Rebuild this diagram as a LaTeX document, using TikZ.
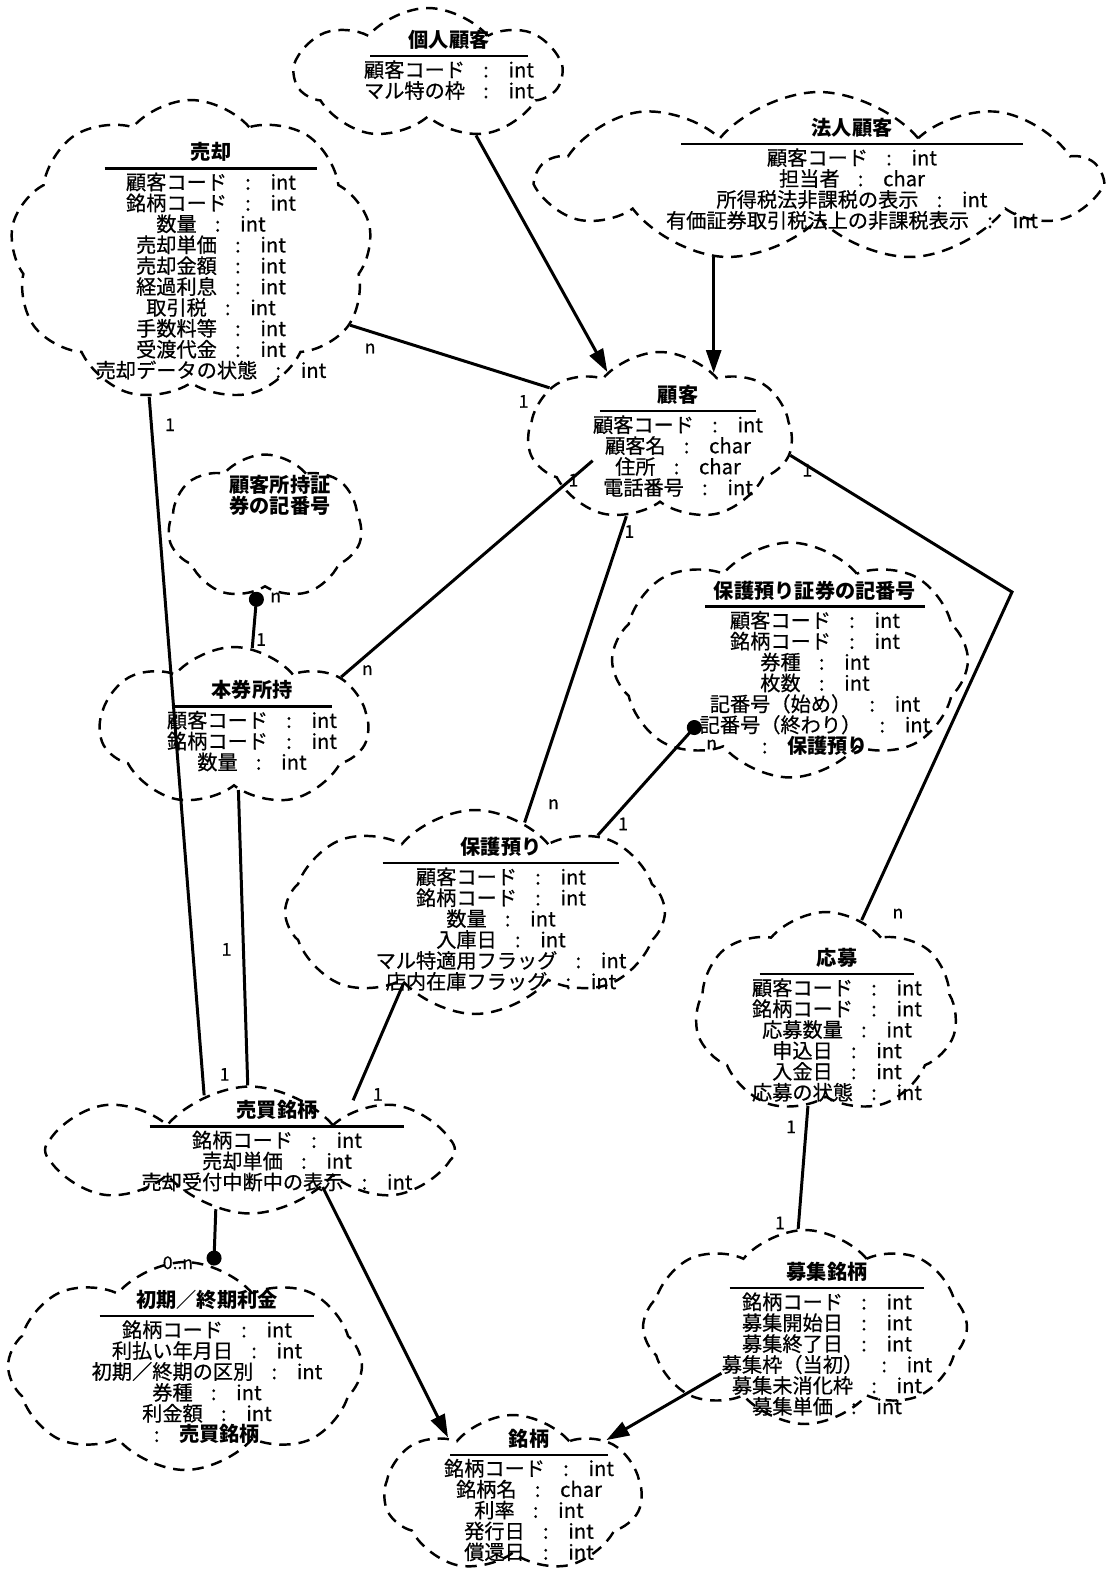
\documentclass[tikz,border=0pt]{standalone}
\usepackage{fontspec}
\setmainfont{Noto Sans CJK JP}[UprightFeatures={FakeBold=0.6}]
\usetikzlibrary{shapes.symbols, arrows.meta}
\newcommand{\classfont}{\fontsize{11.5}{11.9}\selectfont\lineskiplimit=-20pt\relax\spaceskip=0.9em\relax}
\newcommand{\titlerule}[1]{\\[-7pt]\rule[-0.65pt]{#1}{1.3pt}\\[0.2pt]}
\tikzstyle{cloudbox} = [cloud, cloud puffs=7, cloud puff arc=100, cloud ignores aspect, draw, line width=1.4pt, dash pattern=on 6.5pt off 4.5pt]
\tikzstyle{classtext} = [align=center, inner sep=0pt, font=\classfont]
\tikzstyle{link} = [line width=1.7pt]
\tikzstyle{arrow} = [line width=1.7pt, -{Triangle[length=0.46cm, width=0.3cm]}]
\tikzstyle{many} = [line width=1.7pt, -{Circle[length=0.3cm]}]
\tikzstyle{mult} = [font=\fontsize{10}{12}\selectfont, inner sep=1pt]

\begin{document}
\begin{tikzpicture}[x=0.02cm, y=-0.02cm]
    \useasboundingbox (0,0) rectangle (1108,1575);

    \node (kojin) [cloudbox, minimum width=5.3cm, minimum height=2.64cm] at (428,74) {};
    \node (baikyaku) [cloudbox, cloud puffs=9, minimum width=7.24cm, minimum height=6.04cm] at (191,251) {};
    \node (hojin) [cloudbox, cloud puffs=9, minimum width=11.16cm, minimum height=3.4cm] at (819,177) {};
    \node (kokyaku) [cloudbox, minimum width=5.28cm, minimum height=3.4cm] at (660,437) {};
    \node (shoji) [cloudbox, minimum width=3.88cm, minimum height=2.9cm] at (265,527) {};
    \node (honken) [cloudbox, minimum width=5.36cm, minimum height=3.2cm] at (234,727) {};
    \node (hogoban) [cloudbox, cloud puffs=8, minimum width=7.12cm, minimum height=4.7cm] at (790,660) {};
    \node (hogo) [cloudbox, cloud puffs=8, minimum width=7.6cm, minimum height=4.08cm] at (475,912) {};
    \node (obo) [cloudbox, minimum width=5.24cm, minimum height=4.04cm] at (826,1013) {};
    \node (baibai) [cloudbox, cloud puffs=8, minimum width=8.2cm, minimum height=2.54cm] at (250,1150) {};
    \node (rikin) [cloudbox, cloud puffs=8, minimum width=7.08cm, minimum height=4.16cm] at (185,1366) {};
    \node (boshu) [cloudbox, cloud puffs=8, minimum width=6.48cm, minimum height=3.88cm] at (805,1327) {};
    \node (meigara) [cloudbox, minimum width=5.14cm, minimum height=3.16cm] at (513,1494) {};

    \node (kojin-t) [classtext] at (449,65) {\textbf{個人顧客}\titlerule{3.16cm}顧客コード : int\\マル特の枠 : int};
    \node (baikyaku-t) [classtext] at (211,261) {\textbf{売却}\titlerule{4.26cm}顧客コード : int\\銘柄コード : int\\数量 : int\\売却単価 : int\\売却金額 : int\\経過利息 : int\\取引税 : int\\手数料等 : int\\受渡代金 : int\\売却データの状態 : int};
    \node (hojin-t) [classtext] at (852,174) {\textbf{法人顧客}\titlerule{6.84cm}顧客コード : int\\担当者 : char\\所得税法非課税の表示 : int\\有価証券取引税法上の非課税表示 : int};
    \node (kokyaku-t) [classtext] at (678,441) {\textbf{顧客}\titlerule{3.14cm}顧客コード : int\\顧客名 : char\\住所 : char\\電話番号 : int};
    \node (shoji-t) [classtext] at (280,495) {\textbf{顧客所持証}\\\textbf{券の記番号}};
    \node (honken-t) [classtext] at (252,726) {\textbf{本券所持}\titlerule{3.22cm}顧客コード : int\\銘柄コード : int\\数量 : int};
    \node (hogoban-t) [classtext] at (815,668) {\textbf{保護預り証券の記番号}\titlerule{4.4cm}顧客コード : int\\銘柄コード : int\\券種 : int\\枚数 : int\\記番号（始め） : int\\記番号（終わり） : int\\: \textbf{保護預り}};
    \node (hogo-t) [classtext] at (501,914) {\textbf{保護預り}\titlerule{4.74cm}顧客コード : int\\銘柄コード : int\\数量 : int\\入庫日 : int\\マル特適用フラッグ : int\\店内在庫フラッグ : int};
    \node (obo-t) [classtext] at (837,1025) {\textbf{応募}\titlerule{3.1cm}顧客コード : int\\銘柄コード : int\\応募数量 : int\\申込日 : int\\入金日 : int\\応募の状態 : int};
    \node (baibai-t) [classtext] at (277,1146) {\textbf{売買銘柄}\titlerule{5.1cm}銘柄コード : int\\売却単価 : int\\売却受付中断中の表示 : int};
    \node (rikin-t) [classtext] at (207,1367) {\textbf{初期／終期利金}\titlerule{4.3cm}銘柄コード : int\\利払い年月日 : int\\初期／終期の区別 : int\\券種 : int\\利金額 : int\\: \textbf{売買銘柄}};
    \node (boshu-t) [classtext] at (827,1339) {\textbf{募集銘柄}\titlerule{3.9cm}銘柄コード : int\\募集開始日 : int\\募集終了日 : int\\募集枠（当初） : int\\募集未消化枠 : int\\募集単価 : int};
    \node (meigara-t) [classtext] at (529,1495) {\textbf{銘柄}\titlerule{3.16cm}銘柄コード : int\\銘柄名 : char\\利率 : int\\発行日 : int\\償還日 : int};

    \coordinate (bend) at (1012,592);

    \draw [arrow] (kojin.-52) -- (kokyaku.129);
    \draw [arrow] (kokyaku.50 |- hojin.-142) -- (kokyaku.50);
    \draw [link] (baikyaku.-25) -- node[mult, pos=0.1, below=5pt] {n} node[mult, pos=0.87, below=7pt] {1} (kokyaku.156);
    \draw [link] (baikyaku.-106) -- node[mult, pos=0.04, right=6pt] {1} node[mult, pos=0.97, right=8pt] {1} (baibai.130);
    \draw [link] (kokyaku-t.-167) -- node[mult, pos=0.03, below left=2pt] {1} node[mult, pos=0.93, below right] {n} (honken.25);
    \draw [many] (honken.77) -- node[mult, pos=0.15, right] {1} node[mult, pos=0.9, right=6pt] {n} (shoji.-97);
    \draw [link] (kokyaku.-113) -- node[mult, pos=0.05, right] {1} node[mult, pos=0.94, right=8pt] {n} (hogo.61);
    \draw [link] (kokyaku.-8) -- node[mult, pos=0.04, below right] {1} (bend) -- node[mult, pos=0.98, right=14pt] {n} (obo.69);
    \draw [many] (hogo.32) -- node[mult, pos=0.1, right=4pt] {1} node[mult, pos=0.95, below right=5pt] {n} (hogoban-t.-155);
    \draw [link] (hogo.-135) -- node[mult, pos=0.95, right=8pt] {1} (baibai-t.31);
    \draw [link] (honken.-86) -- node[mult, pos=0.54, left=5pt] {1} (baibai.92);
    \draw [arrow] (baibai.-27) -- (meigara.139);
    \draw [many] (baibai.-120) -- node[mult, pos=0.95, left=10pt] {0..n} (rikin.74);
    \draw [link] (obo.-101) -- node[mult, pos=0.17, left=4pt] {1} node[mult, pos=0.95, left=6pt] {1} (boshu.94);
    \draw [arrow] (boshu-t.-162) -- (meigara.30);

\end{tikzpicture}
\end{document}
